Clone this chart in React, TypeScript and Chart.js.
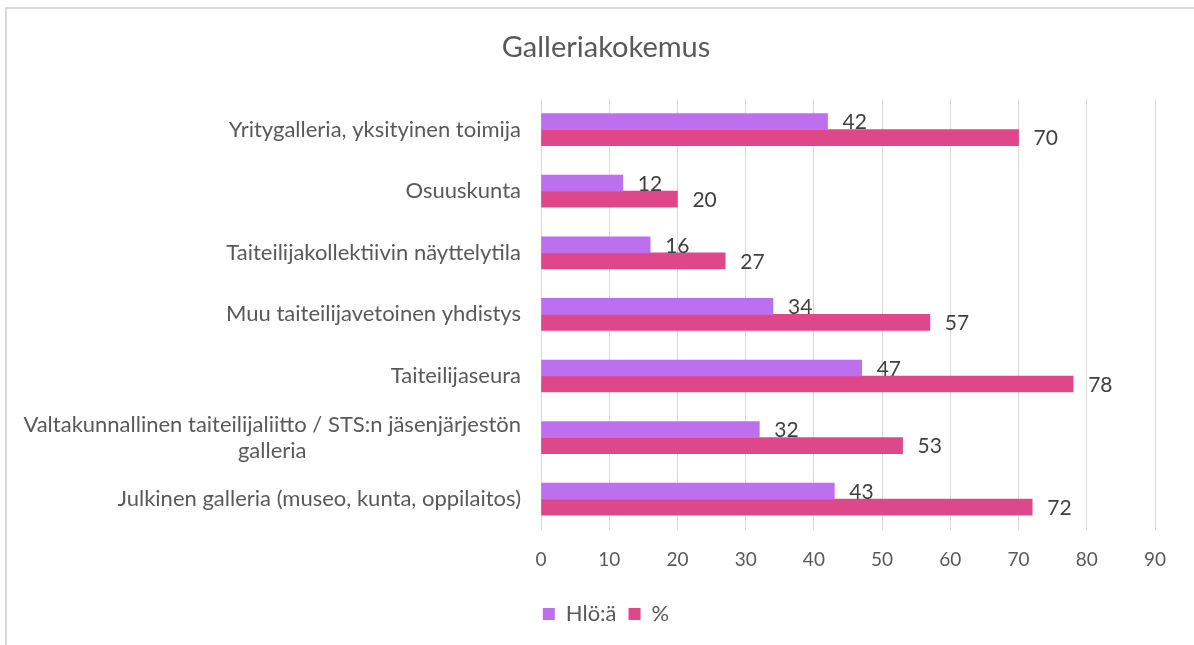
import React, { useEffect, useRef } from "react";
import { Chart, registerables } from "chart.js";

Chart.register(...registerables);

const categories: (string | string[])[] = [
  "Yritygalleria, yksityinen toimija",
  "Osuuskunta",
  "Taiteilijakollektiivin näyttelytila",
  "Muu taiteilijavetoinen yhdistys",
  "Taiteilijaseura",
  ["Valtakunnallinen taiteilijaliitto / STS:n jäsenjärjestön", "galleria"],
  "Julkinen galleria (museo, kunta, oppilaitos)",
];
const hloValues = [42, 12, 16, 34, 47, 32, 43];
const pctValues = [70, 20, 27, 57, 78, 53, 72];
const seriesNames = ["Hlö:ä", "%"];
const seriesColors = ["#BC70F0", "#DF478B"];
const xTicks = { min: 0, max: 90, step: 10 };
const titleText = "Galleriakokemus";

const FONT = "Lato, 'Open Sans', sans-serif";

const categoryLabelPlugin = {
  id: "categoryLabels",
  afterDraw(chart: any) {
    const ctx = chart.ctx;
    const yScale = chart.scales.y;
    const right = chart.chartArea.left - 20;
    ctx.save();
    ctx.font = `22px ${FONT}`;
    ctx.fillStyle = "#595959";
    ctx.textBaseline = "middle";
    categories.forEach((lab, i) => {
      const cy = yScale.getPixelForValue(i);
      const lines = Array.isArray(lab) ? lab : [lab];
      const lh = 26;
      const w0 = Math.max(...lines.map((l) => ctx.measureText(l).width));
      const cx = right - w0 / 2;
      ctx.textAlign = "center";
      lines.forEach((l, j) => {
        const y = cy + (j - (lines.length - 1) / 2) * lh;
        ctx.fillText(l, cx, y);
      });
    });
    ctx.restore();
  },
};

const valueLabelPlugin = {
  id: "valueLabels",
  afterDatasetsDraw(chart: any) {
    const ctx = chart.ctx;
    ctx.save();
    ctx.font = `21px ${FONT}`;
    ctx.fillStyle = "#404040";
    ctx.textAlign = "left";
    ctx.textBaseline = "middle";
    chart.data.datasets.forEach((ds: any, di: number) => {
      const meta = chart.getDatasetMeta(di);
      meta.data.forEach((bar: any, i: number) => {
        ctx.fillText(String(ds.data[i]), bar.x + 15, bar.y + 1);
      });
    });
    ctx.restore();
  },
};

export default function App() {
  const ref = useRef<HTMLCanvasElement>(null);
  useEffect(() => {
    if (!ref.current) return;
    const chart = new Chart(ref.current, {
      type: "bar",
      data: {
        labels: categories as any,
        datasets: [
          {
            label: seriesNames[0],
            data: hloValues,
            backgroundColor: seriesColors[0],
            barThickness: 16,
          },
          {
            label: seriesNames[1],
            data: pctValues,
            backgroundColor: seriesColors[1],
            barThickness: 16,
          },
        ],
      },
      options: {
        indexAxis: "y",
        responsive: false,
        animation: false,
        layout: { padding: { left: 0, right: 0, top: 0, bottom: 10 } },
        scales: {
          x: {
            min: xTicks.min,
            max: xTicks.max,
            ticks: {
              stepSize: xTicks.step,
              color: "#595959",
              font: { size: 19, family: FONT },
              padding: 18,
            },
            grid: { color: "#d9d9d9", lineWidth: 1, drawTicks: false },
            border: { display: false },
            afterFit: (s: any) => {
              s.height = 61;
            },
          },
          y: {
            ticks: { display: false },
            grid: { display: false, drawTicks: false },
            border: { display: false },
            afterFit: (s: any) => {
              s.width = 534;
            },
          },
          spacer: {
            type: "linear",
            axis: "y",
            position: "right",
            display: true,
            ticks: { display: false },
            grid: { display: false, drawTicks: false },
            border: { display: false },
            afterFit: (s: any) => {
              s.width = 50;
            },
          },
        },
        plugins: {
          title: {
            display: true,
            text: titleText,
            color: "#595959",
            font: { size: 29, family: FONT, weight: "normal" },
            padding: { top: 21, bottom: 34 },
          },
          legend: {
            position: "bottom",
            labels: {
              boxWidth: 12,
              boxHeight: 12,
              color: "#595959",
              font: { size: 22, family: FONT },
              padding: 12,
            },
          },
          tooltip: { enabled: false },
        },
      },
      plugins: [categoryLabelPlugin, valueLabelPlugin],
    });
    return () => chart.destroy();
  }, []);

  return (
    <div
      style={{
        position: "fixed",
        left: 0,
        top: 0,
        width: 1194,
        height: 645,
        overflow: "hidden",
        background: "#fff",
      }}
    >
      <div
        style={{
          position: "absolute",
          left: 5,
          top: 7,
          width: 1280,
          height: 700,
          border: "2px solid #d9d9d9",
        }}
      >
        <canvas ref={ref} width={1198} height={636} style={{ display: "block" }} />
      </div>
    </div>
  );
}
